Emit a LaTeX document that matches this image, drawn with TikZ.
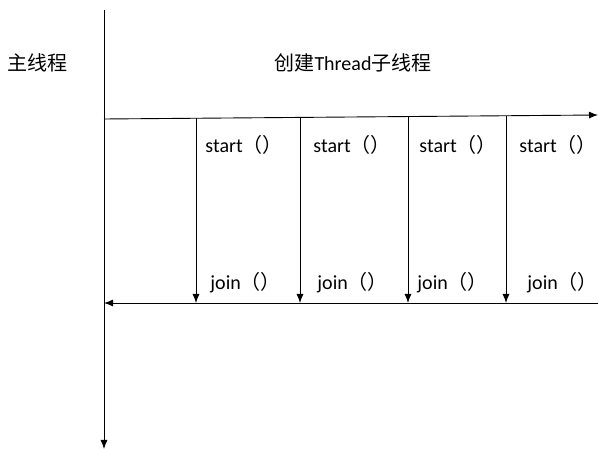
\documentclass[tikz,border=0pt]{standalone}
\usepackage{fontspec}
\setmainfont{Carlito}
\newfontfamily\cjk{Noto Sans CJK SC}
\newcommand{\kuohao}{{\cjk （）}}
\usetikzlibrary{arrows.meta}

\begin{document}
\begin{tikzpicture}[>={Latex[length=9pt,width=7pt]}, x=1pt, y=-1pt, line width=0.9pt,
  font=\fontsize{20}{22}\selectfont, every node/.style={inner sep=0pt}]
\useasboundingbox (0,0) rectangle (598,449);
% main thread
\coordinate (mtop) at (104,10);
\coordinate (mbot) at (104,449);
\draw[->] (mtop) -- (mbot);
\node[anchor=west] (mainlabel) at (7,63) {\cjk 主线程};
\node (childlabel) at (353,63) {\cjk 创建\rmfamily Thread\cjk 子线程};
% create and join lines
\coordinate (cl) at (104,119);
\coordinate (cr) at (598,115);
\draw[->] (cl) -- (cr);
\coordinate (jr) at (598,303);
\coordinate (jl) at (104,303);
\draw[->] (jr) -- (jl);
% child threads
\foreach \x/\n in {196/1, 300/2, 408/3, 506/4}{
  \coordinate (s\n) at (\x,{119-4*(\x-104)/494});
  \coordinate (j\n) at (\x,303);
  \draw[->] (s\n) -- (j\n);
}
\node[anchor=west] (start1) at (205,145) {start\kuohao};
\node[anchor=west] (start2) at (313,145) {start\kuohao};
\node[anchor=west] (start3) at (419,145) {start\kuohao};
\node[anchor=west] (start4) at (519,145) {start\kuohao};
\node[anchor=west] (join1) at (210,283) {join\kuohao};
\node[anchor=west] (join2) at (317,283) {join\kuohao};
\node[anchor=west] (join3) at (417,283) {join\kuohao};
\node[anchor=west] (join4) at (527,283) {join\kuohao};
\end{tikzpicture}
\end{document}
